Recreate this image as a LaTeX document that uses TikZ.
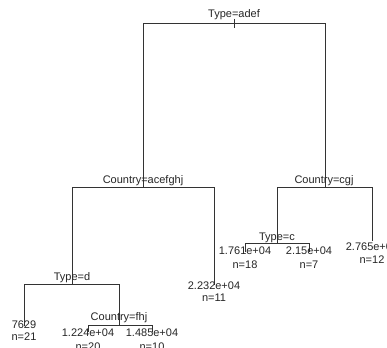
\documentclass[tikz,border=0pt]{standalone}
\usepackage{fontspec}
\setmainfont{Liberation Sans}
\begin{document}
\begin{tikzpicture}[x=1pt,y=-1pt,
  edge/.style={draw=black!80,line width=0.9pt},
  lbl/.style={font=\fontsize{11}{13}\selectfont,text=black!85,inner sep=0pt,text height=8pt,text depth=0pt,anchor=center}]
\useasboundingbox[fill=white] (0,0) rectangle (387,347);
% split points
\coordinate (r) at (234,23);
\coordinate (rt) at (234,19);
\coordinate (rb) at (234,28);
\coordinate (a) at (143,187);
\coordinate (b) at (325,187);
\coordinate (c) at (72,284);
\coordinate (d) at (119,325);
\coordinate (e) at (277,243);
% leaves
\coordinate (l1) at (24,326);
\coordinate (l2) at (88,332);
\coordinate (l3) at (152,332);
\coordinate (l4) at (214,285);
\coordinate (l5) at (245,252);
\coordinate (l6) at (309,252);
\coordinate (l7) at (372,241);
% edges
\draw[edge] (rt) -- (rb);
\draw[edge] (r) -| (a);
\draw[edge] (r) -| (b);
\draw[edge] (a) -| (c);
\draw[edge] (a) -| (l4);
\draw[edge] (c) -| (l1);
\draw[edge] (c) -| (d);
\draw[edge] (d) -| (l2);
\draw[edge] (d) -| (l3);
\draw[edge] (b) -| (e);
\draw[edge] (b) -| (l7);
\draw[edge] (e) -| (l5);
\draw[edge] (e) -| (l6);
% split labels
\node[lbl] (tr) at (234,14) {Type=adef};
\node[lbl] (ta) at (143,179) {Country=acefghj};
\node[lbl] (tb) at (324,179) {Country=cgj};
\node[lbl] (tc) at (72,276) {Type=d};
\node[lbl] (td) at (119,316) {Country=fhj};
\node[lbl] (te) at (277,236) {Type=c};
% leaf labels
\node[lbl] (v1) at (24,324) {7629};
\node[lbl] (n1) at (24,336) {n=21};
\node[lbl] (v2) at (88,332) {1.224e+04};
\node[lbl] (n2) at (88,346.5) {n=20};
\node[lbl] (v3) at (152,332) {1.485e+04};
\node[lbl] (n3) at (152,346.5) {n=10};
\node[lbl] (v4) at (214,285) {2.232e+04};
\node[lbl] (n4) at (214,297) {n=11};
\node[lbl] (v5) at (245,250) {1.761e+04};
\node[lbl] (n5) at (245,264) {n=18};
\node[lbl] (v6) at (309,250) {2.15e+04};
\node[lbl] (n6) at (309,264) {n=7};
\node[lbl] (v7) at (372,246) {2.765e+04};
\node[lbl] (n7) at (372,259) {n=12};
\end{tikzpicture}
\end{document}
